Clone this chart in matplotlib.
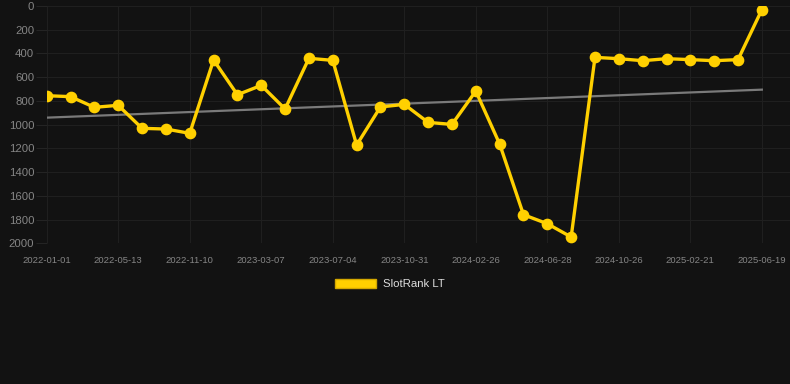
import numpy as np
import matplotlib
matplotlib.use('Agg')
import matplotlib.pyplot as plt
from matplotlib.patches import Patch

# SlotRank LT rank values, one per sample (lower rank = better, axis inverted)
rank = [756, 764, 854, 837, 1031, 1037, 1073, 455, 748, 669,
        868, 441, 458, 1172, 851, 829, 981, 998, 717, 1163,
        1759, 1835, 1947, 433, 444, 461, 444, 452, 461, 452,
        31]
# trend line endpoints
trend = [941, 705]
tick_labels = ['2022-01-01', '2022-05-13', '2022-11-10', '2023-03-07', '2023-07-04',
               '2023-10-31', '2024-02-26', '2024-06-28', '2024-10-26', '2025-02-21',
               '2025-06-19']
y_ticks = [0, 200, 400, 600, 800, 1000, 1200, 1400, 1600, 1800, 2000]

bg = '#121212'
yellow = '#FFD000'
grid_col = '#1f1f1f'
tick_col = '#858585'

plt.rcParams['font.family'] = ['Liberation Sans', 'DejaVu Sans']

fig = plt.figure(figsize=(7.9, 3.84), dpi=100, facecolor=bg)
ax1 = fig.add_axes([46.7 / 790, 1 - 243.3 / 384, 1 - 46.7 / 790, (243.3 - 6) / 384])
ax1.set_facecolor(bg)

x = np.arange(len(rank))
ax1.plot([x[0], x[-1]], trend, color='#7a7a7a', lw=1.6, zorder=2)
ax1.plot(x, rank, color=yellow, lw=2.4, marker='o', ms=7.4, zorder=3)

ax1.set_ylim(2000, 0)
ax1.set_xlim(0, 31.18)
ax1.set_yticks(y_ticks)
ax1.set_yticklabels([str(v) for v in y_ticks])
ax1.set_xticks(x[::3])
ax1.set_xticklabels(tick_labels)
ax1.grid(True, color=grid_col, lw=0.8)
ax1.tick_params(axis='y', colors='#242424', labelcolor=tick_col, labelsize=8.2, length=8, pad=1)
ax1.tick_params(axis='x', colors=grid_col, labelcolor=tick_col, labelsize=6.8, length=0, pad=9)
for s in ax1.spines.values():
    s.set_visible(False)

leg = fig.legend(handles=[Patch(facecolor=yellow, edgecolor='#d4a800', label='SlotRank LT')],
                 loc='center', bbox_to_anchor=(390 / 790, 1 - 284 / 384), frameon=False,
                 fontsize=8.2, handlelength=3.6, handleheight=0.95, handletextpad=0.55)
for t in leg.get_texts():
    t.set_color('#dddddd')

fig.savefig('out.png', dpi=100, facecolor=bg)
